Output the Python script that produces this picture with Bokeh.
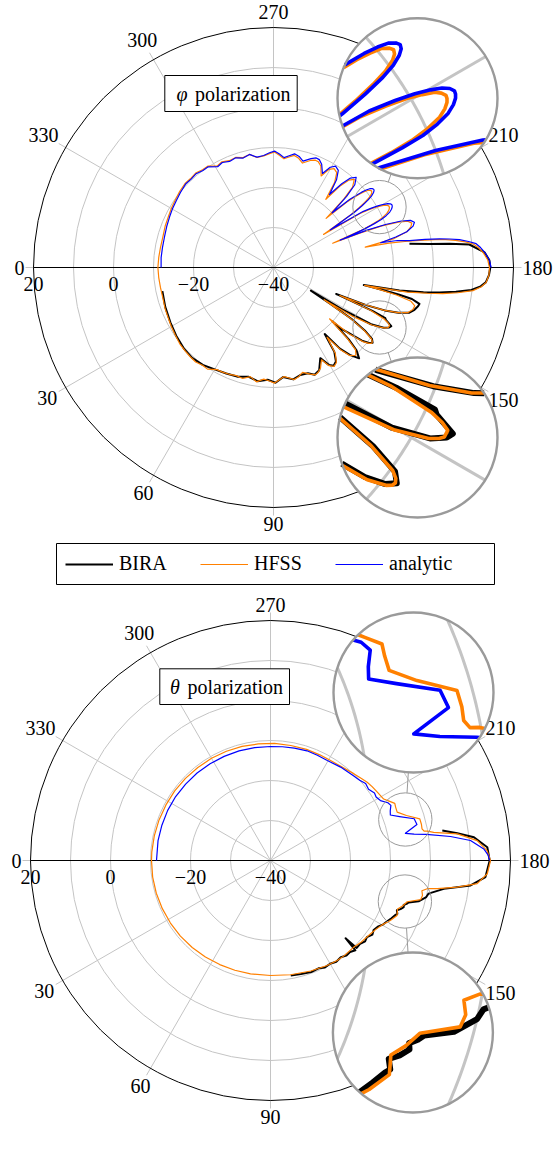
import numpy as np
from bokeh.plotting import figure
from bokeh.layouts import column
from bokeh.models import Range1d, Legend, LegendItem, Label, BoxAnnotation
from bokeh.embed import file_html
from bokeh.resources import INLINE
from bokeh.core.properties import value

FONT = "Liberation Serif"

# ---------------- data (angle in degrees, RCS in dBsm) ----------------
angle_ticks = [0, 30, 60, 90, 120, 150, 180, 210, 240, 270, 300, 330]
radial_ticks = [20, 0, -20, -40]
radial_grid = [-30, -20, -10, 0, 10]
r_min, r_max = -40, 20

# phi polarization
hfss_phi_ang = [0, 5, 10, 15.5, 21, 26, 30, 34.5, 39, 43.5,
                47, 50.5, 54, 57, 61, 64, 67.5, 71, 74.5, 78,
                81.5, 85, 88, 90.5, 93, 95.5, 98, 100.5, 103, 105.5,
                109, 111.3, 113, 115, 117.5, 119.5, 121.5, 123.5, 125.7, 127.5,
                129.2, 131, 133.2, 135, 136.2, 137.5, 138.7, 140.3, 141.5, 142.1,
                142.7, 143.3, 144, 145.3, 146.6, 147.5, 148.3, 149.7, 151.2, 152.0,
                152.5, 153.6, 154.3, 155, 156.2, 157.1, 157.8, 158.8, 160.0, 161.4,
                163.2, 164.8, 166.2, 167.4, 168.3, 168.9, 169.6, 170.5, 171.2, 172.2,
                173.4, 174.7, 176, 178,
                180, 182, 184, 185.5, 186.7, 187.6, 188.5, 189.2, 189.8, 190.5,
                191.2, 191.9, 192.5, 193.5, 195, 196.5, 197.8, 199, 200, 201,
                201.8, 202.3, 202.9, 203.5, 204.0, 204.7, 205.5, 206.3, 207.0, 207.5,
                208.0, 208.6, 209.2, 209.8, 210.5, 211.2, 212.0, 213.5, 214.3, 214.9,
                215.5, 216.1, 216.8, 217.4, 218.0, 218.6, 219.3, 219.9, 220.5, 221.1,
                221.8, 223, 224.2, 225.5, 227.5, 229.3, 230.8, 232.5, 234.3, 236.3,
                238.5, 240.5, 242.5, 245, 247, 248.7, 251, 254.5, 257, 259.5,
                262, 264.5, 267, 269.5, 272, 275, 278.5, 282, 285.5, 289,
                292.5, 296, 299, 303, 306, 309.5, 313, 316.5, 321, 325.5,
                330, 334, 339, 344.5, 350, 355, 360]
hfss_phi_db = [-11.1, -11.2, -11.3, -11.3, -11.0, -10.8, -10.5, -10.2, -9.8, -9.6,
               -9.5, -9.4, -9.8, -9.7, -10.8, -10.9, -11.1, -11.4, -11.2, -12.1,
               -11.1, -12.0, -11.6, -11.1, -11.9, -12.6, -12.1, -11.5, -12.0, -12.8,
               -11.8, -11.2, -11.5, -12.2, -14.0, -11.8, -11.0, -11.5, -13.5, -18.0,
               -13.5, -10.8, -9.9, -11.0, -14.5, -21.0, -15.0, -11.0, -9.5, -9.1,
               -9.0, -9.2, -9.8, -12.5, -17.0, -25.0, -17.0, -11.5, -8.7, -7.9,
               -7.6, -7.6, -8.3, -9.5, -13.5, -22.0, -16.0, -10.5, -7.0, -4.6,
               -3.6, -3.4, -4.6, -8.5, -13.0, -16.8, -6.0, -1.0, 2.8, 6.5,
               10.2, 12.2, 13.3, 13.9,
               14.0, 13.6, 12.6, 11.5, 10.3, 8.4, 6.0, 3.6, 1.0, -2.7,
               -6.5, -10.5, -16.5, -9.0, -5.5, -4.2, -3.7, -4.5, -6.8, -11.0,
               -17.0, -24.0, -16.5, -13.5, -11.5, -9.9, -8.6, -7.9, -7.5, -7.35,
               -7.3, -7.55, -8.0, -9.0, -10.3, -12.1, -14.5, -25.0, -16.5, -14.0,
               -12.0, -10.5, -9.5, -9.05, -8.9, -9.1, -9.6, -10.6, -11.8, -13.5,
               -15.5, -22.0, -15.5, -11.8, -10.1, -11.2, -13.8, -18.5, -13.8, -11.5,
               -11.0, -11.8, -14.2, -12.0, -11.3, -11.2, -11.7, -12.9, -12.0, -11.5,
               -12.1, -12.7, -11.9, -11.1, -11.5, -12.0, -12.2, -11.1, -11.5, -10.9,
               -11.1, -10.6, -11.0, -9.8, -9.8, -9.4, -9.6, -9.5, -9.8, -10.2,
               -10.5, -10.8, -11.0, -11.3, -11.3, -11.2, -11.1]

analytic_phi_ang = [180, 182, 184, 185.5, 186.7, 187.6, 188.5, 189.2, 189.8, 190.5,
                    191.2, 192.3, 193.0, 194.0, 195.0, 196.5, 197.8, 199.0, 200.0, 201.0,
                    201.8, 202.3, 202.9, 203.5, 204.0, 204.7, 205.5, 206.3, 207.0, 207.5,
                    208.0, 208.6, 209.2, 209.8, 210.5, 211.2, 212.0, 213.5, 214.3, 214.9,
                    215.5, 216.1, 216.8, 217.4, 218.0, 218.6, 219.3, 219.9, 220.5, 221.1,
                    221.8, 223.0, 224.2, 225.5, 227.5, 229.3, 230.8, 232.5, 234.3, 236.3,
                    238.5, 240.5, 242.5, 245.0, 247.0, 248.7, 251.0, 254.5, 257.0, 259.5,
                    262.0, 264.5, 267.0, 269.5, 272.0, 275.0, 278.5, 282.0, 285.5, 289.0,
                    292.5, 296.0, 299.0, 303.0, 306.0, 309.5, 313.0, 316.5, 321.0, 325.5,
                    330.0, 334.0, 339.0, 344.5, 350.0, 355.0, 360.0]
analytic_phi_db = [14.4, 14.0, 13.0, 12.0, 11.0, 9.2, 7.0, 4.6, 2.1, -1.5,
                   -5.3, -8.3, -12.5, -8.5, -5.5, -3.6, -3.0, -3.8, -6.0, -10.0,
                   -15.0, -22.0, -15.5, -12.5, -10.5, -9.0, -7.8, -7.1, -6.7, -6.55,
                   -6.5, -6.75, -7.3, -8.2, -9.5, -11.2, -13.5, -23.0, -15.5, -13.0,
                   -11.0, -9.7, -8.8, -8.35, -8.2, -8.4, -8.9, -9.8, -11.0, -12.6,
                   -14.5, -20.0, -14.5, -11.0, -9.4, -10.5, -13.0, -17.0, -13.0, -10.8,
                   -10.3, -11.2, -13.5, -11.5, -10.7, -10.6, -11.2, -12.4, -11.5, -11.1,
                   -11.8, -12.4, -11.6, -10.9, -11.3, -11.9, -12.1, -11.1, -11.6, -11.0,
                   -11.3, -10.8, -11.2, -10.0, -10.0, -9.6, -9.8, -9.7, -10.1, -10.5,
                   -10.8, -11.1, -11.4, -11.7, -11.8, -11.8, -11.9]

bira_phi_ang = [12, 20, 28, 35, 42, 48, 54, 60, 66, 72,
                77, 82, 87, 91, 95, 100, 104, 108, 111, 114,
                117.3, 119.6, 121.5, 123.6, 125.8, 127.6, 129.3, 131.1, 133.3, 135.1,
                136.3, 137.6, 137.9, 138.8, 140.4, 141.6, 142.8, 144.1, 145.4, 146.6,
                147.4, 148.3, 148.6, 149.8, 151.3, 152.6, 153.5, 155.0, 155.6, 156.3,
                157.1, 157.9, 158.9, 160.1, 161.5, 163.3, 165.0, 166.0, 166.6, 167.2,
                167.8, 168.6, 169.0, 169.7, 170.6, 171.4, 172.4, 173.5, 174.8, 176.0,
                178, 180, 181.9, 184.1, 186.7, 187.7, 188.6, 189.9]
bira_phi_db = [-11.6, -11.2, -10.8, -10.3, -9.8, -9.6, -9.9, -10.6, -11.0, -11.3,
               -12.0, -11.3, -11.9, -11.2, -12.5, -11.6, -12.3, -12.2, -11.3, -11.9,
               -14.5, -12.0, -11.2, -11.8, -14.0, -19.0, -13.8, -11.0, -8.8, -10.7,
               -14.0, -20.0, -17.0, -15.5, -11.3, -9.6, -8.9, -9.6, -12.3, -16.5,
               -23.0, -29.0, -20.0, -11.8, -8.6, -7.4, -7.1, -9.0, -9.3, -13.0,
               -23.0, -15.0, -10.2, -6.8, -4.3, -3.2, -2.6, -2.4, -3.5, -4.5,
               -8.0, -14.0, -17.0, -8.0, -2.0, 2.0, 6.0, 9.8, 12.0, 13.2,
               13.9, 14.2, 14.0, 12.9, 9.3, 4.4, -0.55, -5.5]

# theta polarization
hfss_theta_ang = [0, 8, 16, 24, 32, 40, 48, 56, 64, 72,
                  80, 90, 100, 110, 118, 123.7, 128, 133.9, 138, 143.8,
                  147, 150, 153.4, 156.5, 159.1, 161, 163.2, 165.4, 167.0, 168.7,
                  169.8, 170.4, 171.9, 173.6, 176.5, 180, 182.6, 185.5, 188.1, 189.8,
                  190.6, 190.8, 191.8, 193.5, 195.6, 198.3, 200.9, 203.0, 204.7, 206.6,
                  208.5, 212.6, 216, 219, 222, 226, 233, 239, 245, 252,
                  260, 268, 276, 284, 292, 300, 308, 316, 324, 332,
                  340, 348, 356, 360]
hfss_theta_db = [-10.25, -10.25, -10.3, -10.4, -10.5, -10.6, -10.75, -10.9, -11.05, -11.15,
                 -11.2, -11.25, -11.0, -10.6, -10.2, -9.95, -9.9, -9.95, -9.5, -9.0,
                 -8.5, -7.8, -6.5, -5.5, -6.0, -5.1, -4.3, -1.2, -1.0, -1.4,
                 -0.2, 2.3, 7.15, 12.0, 14.3, 15.0, 14.2, 11.9, 7.2, 1.4,
                 -0.1, -0.9, -1.3, -1.2, -1.25, -4.2, -6.1, -6.0, -5.8, -6.85,
                 -7.8, -8.3, -8.6, -8.9, -9.4, -9.9, -10.6, -10.85, -10.85, -10.8,
                 -10.8, -10.7, -10.7, -10.6, -10.55, -10.5, -10.5, -10.45, -10.4, -10.4,
                 -10.35, -10.3, -10.25, -10.25]

analytic_theta_ang = [180, 181.5, 183.1, 185.7, 187.6, 189.5, 190.4, 191.4, 193.8, 196.2,
                      198.8, 200.8, 202.5, 204.6, 206.2, 208.6, 211, 213, 216, 219,
                      222, 226, 233.1, 240.4, 246, 251.6, 258, 264, 270, 278,
                      286, 294, 302, 310, 318, 326, 334, 342, 350, 360]
analytic_theta_db = [14.8, 14.4, 13.4, 10.25, 5.4, -0.5, -3.5, -5.6, -2.3, -2.6,
                     -5.9, -7.95, -7.6, -6.9, -7.3, -8.7, -9.2, -9.0, -9.7, -9.4,
                     -10.0, -10.4, -10.8, -11.25, -11.2, -11.1, -11.3, -11.4, -11.5, -11.5,
                     -11.5, -11.5, -11.5, -11.45, -11.45, -11.4, -11.4, -11.45, -11.45, -11.5]

bira_theta_ang = [100, 105, 110, 114, 117, 120, 123, 126, 128.5, 131,
                  133.4, 134.0, 134.6, 137, 139.5, 141.5, 144, 146, 148.6, 150.5,
                  152.5, 154.5, 156.5, 157.2, 158.5, 159.5, 160.7, 161.5, 162.3, 163.1,
                  164.6, 166.8, 168.1, 168.6, 170.7, 172.9, 175.6, 180, 183.5, 186.5,
                  188.3, 189.9]
bira_theta_db = [-10.8, -10.6, -10.3, -10.5, -10.0, -10.2, -9.8, -10.1, -9.6, -9.7,
                 -9.1, -13.0, -9.3, -9.4, -8.9, -9.2, -8.5, -8.9, -8.4, -7.6,
                 -7.1, -6.5, -5.9, -5.6, -6.05, -5.3, -4.7, -4.9, -4.3, -3.9,
                 -1.6, 0.0, 0.35, 0.9, 3.9, 10.4, 13.9, 14.8, 14.3, 11.2,
                 7.2, 3.6]

legend_labels = ["BIRA", "HFSS", "analytic"]

# ---------------- style ----------------
PX = 4.0          # pixels per dB
C_BIRA, C_HFSS, C_AN = "#000000", "#FF8000", "#0000FF"
W_BIRA, W_HFSS, W_AN = 2.0, 1.2, 1.2
GRID_C = "#C4C4C4"
INSET_C = "#9A9A9A"
MAG = 3.0
R_BIG = 20.0       # data units (80 px)


def polar_xy(ang, db):
    a = np.deg2rad(180.0 + np.asarray(ang, float))
    r = np.asarray(db, float) - r_min
    return r * np.cos(a), r * np.sin(a)


def clip_polyline(xs, ys, cx, cy, R):
    out_x, out_y = [], []
    cur = [[], []]

    def flush():
        if len(cur[0]) > 1:
            out_x.append(list(cur[0]))
            out_y.append(list(cur[1]))
        cur[0], cur[1] = [], []

    for i in range(len(xs) - 1):
        x0, y0, x1, y1 = xs[i], ys[i], xs[i + 1], ys[i + 1]
        dx, dy = x1 - x0, y1 - y0
        fx, fy = x0 - cx, y0 - cy
        a = dx * dx + dy * dy
        if a == 0:
            continue
        b = 2 * (fx * dx + fy * dy)
        c = fx * fx + fy * fy - R * R
        disc = b * b - 4 * a * c
        if disc <= 0:
            flush()
            continue
        sq = disc ** 0.5
        t0, t1 = (-b - sq) / (2 * a), (-b + sq) / (2 * a)
        ta, tb = max(t0, 0.0), min(t1, 1.0)
        if ta >= tb:
            flush()
            continue
        if ta > 0 or not cur[0]:
            flush()
            cur[0].append(x0 + ta * dx)
            cur[1].append(y0 + ta * dy)
        cur[0].append(x0 + tb * dx)
        cur[1].append(y0 + tb * dy)
        if tb < 1:
            flush()
    flush()
    return out_x, out_y


def grid_geometry():
    geo = []
    t = np.linspace(0, 2 * np.pi, 721)
    for g in radial_grid:
        r = g - r_min
        geo.append((r * np.cos(t), r * np.sin(t), GRID_C, 1.0))
    for ang in angle_ticks:
        x, y = polar_xy([ang, ang], [r_min, r_max])
        geo.append((x, y, GRID_C, 1.0))
    return geo


def make_chart(width, height, cx_px, cy_px, series, title_sym, title_box, insets):
    x0 = -cx_px / PX
    y1 = cy_px / PX
    p = figure(width=width, height=height, output_backend="svg", toolbar_location=None,
               x_range=Range1d(x0, x0 + width / PX), y_range=Range1d(y1 - height / PX, y1),
               x_axis_location=None, y_axis_location=None, min_border=0,
               outline_line_color=None, background_fill_color="white",
               border_fill_color="white")
    p.xgrid.visible = False
    p.ygrid.visible = False
    R = r_max - r_min

    # grid
    p.circle(x=[0] * len(radial_grid), y=[0] * len(radial_grid),
             radius=[g - r_min for g in radial_grid],
             fill_color=None, line_color=GRID_C, line_width=1)
    sx, sy = [], []
    for ang in angle_ticks:
        x, y = polar_xy([ang, ang], [r_min, r_max + 2.0])
        sx.append(list(x)); sy.append(list(y))
    p.multi_line(sx, sy, line_color=GRID_C, line_width=1)
    p.circle(x=[0], y=[0], radius=[R], fill_color=None, line_color="black", line_width=1)
    p.line([-R, R], [0, 0], line_color="black", line_width=1.2)

    # angle tick labels
    lx, ly, lt = [], [], []
    for ang in angle_ticks:
        a = np.deg2rad(180 + ang)
        c, s = np.cos(a), np.sin(a)
        txt = str(ang)
        w = 10.0 * len(txt); h = 14.0
        ext = abs(c) * w / 2 + abs(s) * h / 2
        d = (R * PX + 9 + ext) / PX
        lx.append(d * c); ly.append(d * s); lt.append(txt)
    p.text(x=lx, y=ly, text=lt, text_align="center", text_baseline="middle",
           text_font=value(FONT), text_font_size="20px", text_color="black")
    # radial tick labels
    rx = [-(v - r_min) for v in radial_ticks]
    rt = [str(v).replace("-", "\u2212") for v in radial_ticks]
    p.text(x=rx, y=[-2.3] * len(rx), text=rt, text_align="center", text_baseline="top",
           text_font=value(FONT), text_font_size="20px", text_color="black")

    # curves
    rends = []
    curves = []
    for (ang, db, col, wd) in series:
        x, y = polar_xy(ang, db)
        r = p.line(x, y, line_color=col, line_width=wd, line_join="round")
        rends.append(r)
        curves.append((x, y, col, wd))

    # insets
    geo = grid_geometry()
    for (S, B) in insets:
        rs = R_BIG / MAG
        ux, uy = B[0] - S[0], B[1] - S[1]
        L = (ux * ux + uy * uy) ** 0.5
        ux, uy = ux / L, uy / L
        p.circle(x=[S[0]], y=[S[1]], radius=[rs], fill_color=None, line_color=INSET_C, line_width=1)
        p.line([S[0] + rs * ux, B[0] - R_BIG * ux], [S[1] + rs * uy, B[1] - R_BIG * uy],
               line_color=INSET_C, line_width=1)
        p.circle(x=[B[0]], y=[B[1]], radius=[R_BIG], fill_color="white", line_color=None)
        for (x, y, col, wd) in geo + curves:
            X = B[0] + MAG * (np.asarray(x) - S[0])
            Y = B[1] + MAG * (np.asarray(y) - S[1])
            mx, my = clip_polyline(list(X), list(Y), B[0], B[1], R_BIG)
            if mx:
                p.multi_line(mx, my, line_color=col, line_width=wd * MAG, line_join="round")
        p.circle(x=[B[0]], y=[B[1]], radius=[R_BIG], fill_color=None, line_color=INSET_C,
                 line_width=2.4)

    # title box: italic symbol + "polarization"
    (bl, br, bt, bb), (sym_x, word_x, ty) = title_box
    p.add_layout(BoxAnnotation(left=bl, right=br, top=bt, bottom=bb, fill_color="white",
                               fill_alpha=1.0, line_color="black", line_width=1, line_alpha=1))
    p.add_layout(Label(x=sym_x, y=ty, text=title_sym, text_align="center",
                       text_baseline="middle", text_font=FONT, text_font_style="italic",
                       text_font_size="20px", text_color="black"))
    p.add_layout(Label(x=word_x, y=ty, text="polarization", text_align="left",
                       text_baseline="middle", text_font=FONT,
                       text_font_size="20px", text_color="black"))
    return p, rends


FIG_W = 556
page_top_c = (273, 267)
fig1_h = 592
cx1, cy1 = page_top_c
ins1 = [((26.5, 15.1), (36.0, 42.3)), ((26.5, -15.0), (36.0, -42.5))]
tb1 = (((164.3 - 273) / PX, (296.7 - 273) / PX, (267 - 75) / PX, (267 - 111) / PX),
       ((181.5 - 273) / PX, (194.5 - 273) / PX, (267 - 93.5) / PX))
p1, r1 = make_chart(FIG_W, fig1_h, cx1, cy1,
                    [(bira_phi_ang, bira_phi_db, C_BIRA, W_BIRA),
                     (hfss_phi_ang, hfss_phi_db, C_HFSS, W_HFSS),
                     (analytic_phi_ang, analytic_phi_db, C_AN, W_AN)],
                    "\u03c6", tb1, ins1)

# legend
p1.add_layout(BoxAnnotation(left=(56 - 273) / PX, right=(494 - 273) / PX,
                            top=(267 - 543) / PX, bottom=(267 - 584) / PX,
                            fill_color=None, fill_alpha=0, line_color="black", line_width=1,
                            line_alpha=1))
leg = Legend(items=[LegendItem(label=legend_labels[i], renderers=[r1[i]]) for i in range(3)],
             orientation="horizontal", location=(56, 8), glyph_width=48, glyph_height=20,
             label_standoff=6, spacing=15, padding=9, margin=0, label_width=66,
             label_text_font=FONT, label_text_font_size="20px", label_text_color="black",
             border_line_alpha=0, background_fill_alpha=0)
p1.add_layout(leg)

page_bot_c = (270, 860)
fig2_h = 558
cx2, cy2 = page_bot_c[0], page_bot_c[1] - fig1_h
ins2 = [((33.7, 10.25), (35.75, 42.0)), ((33.6, -10.25), (35.6, -43.0))]
tb2 = (((159.3 - 270) / PX, (289 - 270) / PX, (860 - 668.3) / PX, (860 - 704) / PX),
       ((174.5 - 270) / PX, (187.0 - 270) / PX, (860 - 686.5) / PX))
p2, r2 = make_chart(FIG_W, fig2_h, cx2, cy2,
                    [(bira_theta_ang, bira_theta_db, C_BIRA, W_BIRA),
                     (hfss_theta_ang, hfss_theta_db, C_HFSS, W_HFSS),
                     (analytic_theta_ang, analytic_theta_db, C_AN, W_AN)],
                    "\u03b8", tb2, ins2)

layout = column(p1, p2, spacing=0)
open("out.html", "w").write(file_html(layout, INLINE))
